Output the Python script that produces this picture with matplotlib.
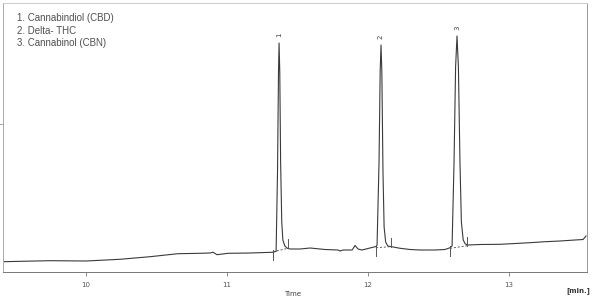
import matplotlib
matplotlib.use("Agg")
import matplotlib.pyplot as plt

# Chromatogram trace (time in min, signal in arbitrary units)
time = [9.41, 9.745, 10.0, 10.24, 10.454, 10.652, 10.809, 10.879, 10.90, 10.929, 11.007, 11.163, 11.319,
        11.348, 11.358, 11.365, 11.369, 11.374, 11.380, 11.388, 11.396, 11.41, 11.43, 11.45,
        11.518, 11.589, 11.695, 11.787, 11.801, 11.823, 11.887, 11.908, 11.929, 11.957, 12.014, 12.057,
        12.064, 12.078, 12.086, 12.092, 12.098, 12.106, 12.114, 12.125, 12.14, 12.16,
        12.227, 12.298, 12.369, 12.475, 12.546, 12.582,
        12.596, 12.610, 12.621, 12.631, 12.641, 12.652, 12.662, 12.675, 12.69, 12.71,
        12.794, 12.936, 13.043, 13.149, 13.255, 13.362, 13.468, 13.525, 13.546]
signal = [10.3, 11.3, 11.0, 12.7, 15.3, 18.3, 18.7, 19.0, 19.8, 17.3, 18.7, 19.0, 19.7,
          20.5, 100, 200, 229, 200, 110, 50, 32, 26, 23.5, 23,
          23, 24, 22.5, 22, 21, 22, 22, 26.5, 23, 22, 24, 25.5,
          27, 110, 200, 227, 200, 100, 45, 30, 26, 25.5,
          23.7, 22.5, 22, 22, 22.5, 24.3,
          26, 110, 205, 236, 205, 110, 50, 32, 28, 27,
          27.5, 27.7, 28.5, 29.3, 30.3, 31, 32, 32.5, 36]

# Peaks
peak_labels = ["1", "2", "3"]
peak_times = [11.369, 12.092, 12.631]
peak_heights = [229, 227, 236]

# Integration baselines (start/end time and signal)
base_start_t = [11.326, 12.057, 12.582]
base_start_s = [20.3, 24.3, 23.7]
base_end_t = [11.433, 12.161, 12.705]
base_end_s = [23.7, 25.3, 26.3]

legend_lines = ["1. Cannabindiol (CBD)", "2. Delta- THC", "3. Cannabinol (CBN)"]

x_ticks = [10, 11, 12, 13]
x_tick_labels = ["10", "11", "12", "13"]

fig = plt.figure(figsize=(6.0, 3.02), dpi=100)
ax = fig.add_axes([3/600, 30/302, 584/600, 269/302])

line_col = "#3a3a3a"
ax.plot(time, signal, color=line_col, lw=0.8)

for ts, ss, te, se in zip(base_start_t, base_start_s, base_end_t, base_end_s):
    ax.plot([ts, te], [ss, se], color="#555555", lw=0.7, ls=(0, (2, 2)))
    ax.plot([ts, ts], [ss - 8, ss + 2], color="#555555", lw=0.7)
    ax.plot([te, te], [se, se + 9], color="#555555", lw=0.7)

for lab, t, h in zip(peak_labels, peak_times, peak_heights):
    ax.text(t, h + 6, lab, rotation=90, ha="center", va="bottom",
            fontsize=5, color="#444444")

ax.set_xlim(9.411, 13.553)
ax.set_ylim(0, 269)

ax.set_xticks(x_ticks)
ax.set_xticklabels(x_tick_labels, fontsize=5, color="#555555")
ax.set_yticks([148])
ax.set_yticklabels([])
ax.tick_params(axis="x", direction="out", length=3, width=0.6, color="#777777", pad=4)
ax.tick_params(axis="y", direction="out", length=3, width=0.6, color="#999999")

for side, col in [("left", "#aaaaaa"), ("top", "#cccccc"), ("right", "#999999"), ("bottom", "#777777")]:
    ax.spines[side].set_color(col)
    ax.spines[side].set_linewidth(0.7)

for i, txt in enumerate(legend_lines):
    fig.text(17/600, 1 - (18 + 12.7 * i)/302, txt, fontsize=7, color="#505050",
             family="Liberation Sans", va="center", ha="left")

fig.text(293/600, 1 - 294/302, "Time", fontsize=5, color="#444444", ha="center", va="center")
fig.text(578/600, 1 - 291/302, "[min.]", fontsize=5, color="#333333", ha="center", va="center",
         fontweight="bold")

fig.savefig("out.png", dpi=100)
